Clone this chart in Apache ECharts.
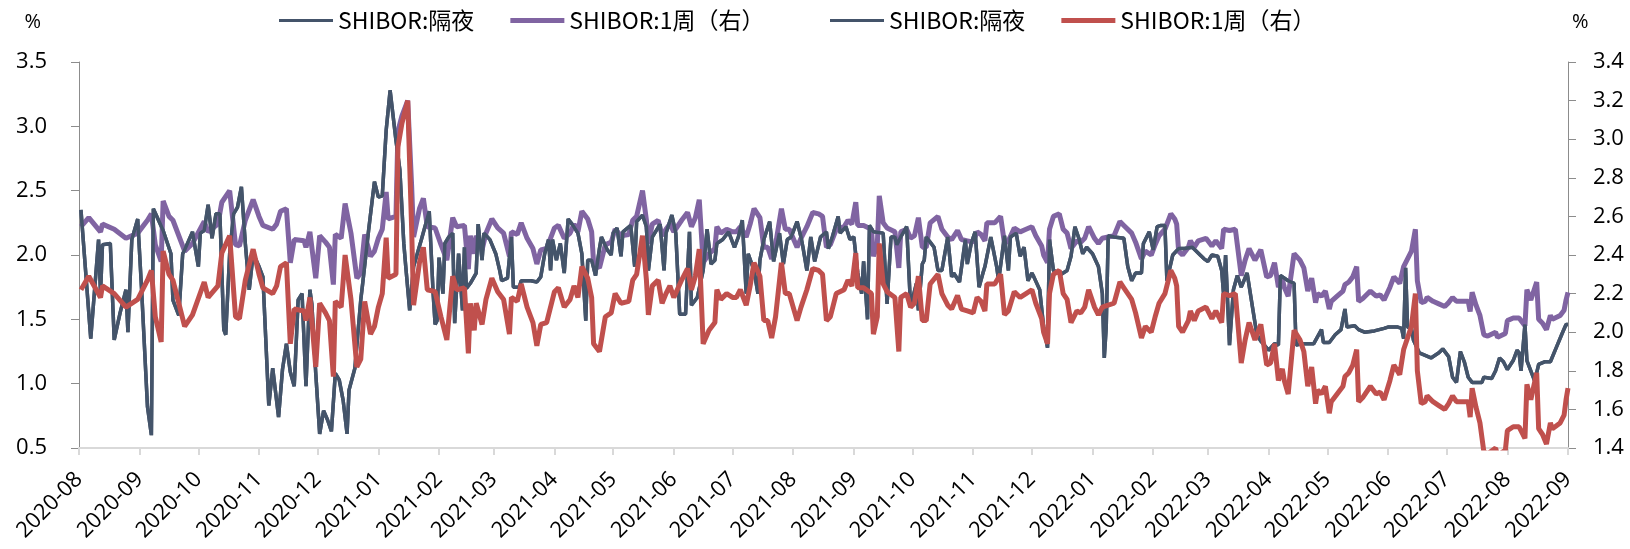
<!DOCTYPE html>
<html>
<head>
<meta charset="utf-8">
<title>SHIBOR</title>
<script src="https://cdn.jsdelivr.net/npm/echarts@6/dist/echarts.min.js"></script>
<style>
html,body{margin:0;padding:0;background:#fff;}
#chart{width:1630px;height:549px;}
</style>
</head>
<body>
<div id="chart"></div>
<script>
// month tick labels on the date axis
var monthLabels = ['2020-08','2020-09','2020-10','2020-11','2020-12','2021-01','2021-02','2021-03','2021-04',
  '2021-05','2021-06','2021-07','2021-08','2021-09','2021-10','2021-11','2021-12','2022-01','2022-02',
  '2022-03','2022-04','2022-05','2022-06','2022-07','2022-08','2022-09'];

// SHIBOR overnight: day offset from 2020-08-01, value (%)
var dayOn = [1,6,10,11,12,16,18,21,24,25,27,30,32,35,37,38,43,47,48,51,53,54,58,61,62,64,66,68,70,72,74,75,77,79,81,83,85,87,89,92,94,97,99,102,104,106,108,110,112,114,116,118,
  119,121,123,125,127,129,131,133,135,137,138,141,144,145,148,151,153,155,157,159,162,164,166,167,169,171,175,179,181,182,183,184,186,187,189,191,192,194,196,197,198,200,203,204,206,207,210,213,215,216,219,221,222,225,226,231,234,236,238,240,241,242,244,246,248,250,252,255,257,259,260,262,264,266,
  267,270,272,273,275,277,278,282,284,285,288,290,291,293,295,297,299,300,303,305,307,310,312,313,316,319,321,323,325,326,329,332,335,337,339,341,342,345,347,348,350,353,355,358,360,362,364,367,369,370,372,374,376,379,382,383,385,388,389,392,394,396,398,400,401,403,404,406,
  411,413,415,417,418,420,423,425,428,429,431,432,433,435,437,439,441,444,446,447,450,452,453,454,456,458,460,462,463,466,469,470,473,475,476,479,481,483,485,487,488,491,493,495,496,498,502,505,507,509,511,513,515,518,521,523,524,525,526,529,534,536,538,540,543,544,547,549,551,553,
  555,556,559,562,565,569,573,575,577,579,582,584,585,586,588,590,592,594,597,600,602,604,608,611,613,614,618,621,622,625,628,631,635,636,639,642,645,647,648,652,654,657,662,667,669,674,
  676,677,678,679,681,682,685,688,691,695,697,700,702,704,706,708,710,712,715,717,718,722,724,726,728,730,733,735,736,737,739,740,742,744,746,749,752,755,758,760,761];
var shiborOn = [2.35,1.35,2.12,1.70,2.08,2.09,1.34,1.55,1.73,1.40,2.12,2.28,1.73,0.82,0.60,2.36,2.19,2.01,1.65,1.53,2.01,2.04,2.18,1.91,2.17,2.19,2.39,2.13,2.32,2.32,1.42,1.38,2.01,2.32,2.37,2.53,2.09,1.73,2.01,1.91,1.83,0.83,1.12,0.74,1.11,1.31,1.09,0.98,1.65,1.70,0.98,1.73,
  1.62,1.08,0.61,0.79,0.72,0.63,1.08,1.03,0.87,0.61,0.95,1.12,1.65,1.78,2.19,2.57,2.45,2.46,2.97,3.28,2.89,2.66,2.09,1.91,1.57,1.91,2.12,2.34,1.70,1.46,1.49,1.98,1.70,2.09,2.14,2.17,1.47,2.01,1.57,2.06,1.74,1.78,1.86,2.24,1.96,2.17,2.12,2.01,1.88,1.80,1.82,2.14,1.75,1.75,1.80,1.80,1.79,1.83,2.01,2.12,1.88,2.12,1.96,2.09,1.86,2.28,2.24,2.17,2.01,1.49,1.96,1.96,1.84,2.05,
  2.14,2.04,2.00,2.17,2.21,1.99,2.18,2.23,1.91,2.26,2.31,2.22,1.88,2.14,2.19,2.24,1.88,2.17,2.31,2.17,1.54,1.54,2.18,1.61,1.67,1.88,2.20,1.93,1.96,2.09,2.12,2.18,2.06,2.14,2.27,1.70,2.01,1.88,1.70,1.96,2.12,2.26,1.95,2.17,1.93,2.12,2.14,2.26,2.14,2.06,1.88,2.14,1.95,2.14,2.18,2.05,2.14,2.30,2.17,2.22,2.12,2.14,1.86,1.70,1.95,1.50,2.23,2.18,
  2.17,1.62,2.14,2.14,2.08,2.14,2.22,1.60,1.78,1.57,1.93,1.96,2.14,2.10,2.06,1.88,1.88,2.14,1.83,1.86,1.79,2.01,2.12,1.93,2.09,2.18,1.75,1.86,1.91,2.14,1.91,1.80,2.15,1.88,2.14,2.17,1.99,2.06,1.80,1.86,1.83,1.73,1.44,1.28,2.12,1.88,1.85,1.88,1.99,2.22,2.13,2.01,2.06,2.01,1.91,1.70,1.20,1.44,2.15,2.14,2.13,1.91,1.80,1.86,1.86,2.09,2.18,2.04,2.22,2.23,
  2.23,1.80,2.00,2.05,2.05,2.06,2.00,1.97,1.95,2.00,1.99,1.88,1.69,2.00,1.30,1.73,1.84,1.75,1.86,1.57,1.38,1.33,1.26,1.31,1.30,1.84,1.80,1.78,1.30,1.31,1.31,1.31,1.42,1.32,1.32,1.38,1.42,1.58,1.44,1.45,1.42,1.40,1.41,1.43,1.44,1.44,
  1.43,1.35,1.90,1.44,1.43,1.34,1.24,1.22,1.20,1.24,1.27,1.21,1.05,1.01,1.25,1.17,1.05,1.01,1.01,1.01,1.05,1.04,1.10,1.20,1.17,1.11,1.18,1.26,1.24,1.10,1.46,1.18,1.10,1.02,1.15,1.17,1.17,1.28,1.39,1.46,1.46];

// SHIBOR 1 week: day offset from 2020-08-01, value (%)
var day1w = [1,5,11,12,18,24,30,35,37,39,42,43,46,48,54,58,64,66,71,73,77,80,82,85,89,92,94,99,101,103,106,108,110,115,116,118,121,123,
  126,128,130,131,134,136,139,142,144,146,149,151,153,155,157,158,162,163,165,168,170,171,174,176,178,182,185,188,191,193,197,199,200,202,203,206,208,211,214,217,220,221,224,226,229,232,234,236,239,243,245,248,251,253,255,257,260,262,263,266,
  269,272,274,277,281,283,285,288,290,291,293,296,298,300,302,304,308,311,313,315,317,319,322,325,326,328,331,334,336,338,341,343,345,348,350,352,354,356,359,361,363,367,369,372,375,378,380,382,384,387,391,393,395,397,398,401,405,406,408,409,
  411,413,417,419,420,423,425,427,429,431,433,435,439,441,444,446,449,451,454,457,459,461,463,464,468,471,473,475,478,481,484,487,489,492,493,495,496,498,501,503,505,507,510,512,514,516,519,521,523,526,529,532,534,538,540,543,545,548,550,552,
  555,558,560,561,562,564,567,568,570,572,576,579,581,584,585,588,591,594,596,598,601,602,604,607,609,611,613,615,616,618,619,621,624,626,628,630,632,633,635,637,639,640,643,646,647,649,651,653,654,656,660,663,665,667,670,672,675,
  677,681,683,684,686,688,689,692,695,698,700,702,704,706,710,711,712,714,716,718,720,724,725,729,730,733,736,739,740,742,745,746,748,750,752,753,757,759,760,761];
var shibor1w = [2.22,2.29,2.18,2.24,2.20,2.13,2.17,2.27,2.32,2.08,1.95,2.42,2.30,2.27,2.03,2.09,2.26,2.18,2.24,2.41,2.50,2.08,2.07,2.27,2.43,2.30,2.23,2.20,2.24,2.34,2.36,1.94,2.12,2.11,2.06,2.18,1.82,2.15,
  2.10,2.06,1.77,2.16,2.13,2.40,2.17,1.82,1.86,2.16,1.99,2.03,2.13,2.20,2.49,2.28,2.30,2.96,3.08,3.20,2.54,2.14,2.36,2.44,2.22,2.21,2.08,1.96,2.29,2.22,2.23,1.89,2.15,2.01,2.15,2.04,2.17,2.28,2.21,2.17,1.99,2.18,2.16,2.25,2.13,2.05,1.93,2.04,2.05,2.21,2.23,2.13,2.17,2.24,2.18,2.34,2.28,2.18,1.94,1.90,
  2.08,2.10,2.20,2.15,2.16,2.27,2.30,2.50,2.27,2.09,2.24,2.27,2.15,2.20,2.24,2.18,2.27,2.33,2.22,2.29,2.43,1.94,2.01,2.05,2.22,2.17,2.20,2.18,2.18,2.22,2.14,2.24,2.36,2.29,2.06,2.06,1.97,2.08,2.36,2.20,2.20,2.06,2.13,2.22,2.33,2.32,2.30,2.06,2.08,2.20,2.22,2.27,2.24,2.41,2.23,2.23,2.20,1.99,2.08,2.46,
  2.25,2.21,2.18,1.90,2.18,2.20,2.13,2.15,2.29,2.06,2.06,2.25,2.30,2.20,2.14,2.12,2.19,2.12,2.11,2.10,2.18,2.16,2.11,2.25,2.25,2.30,2.09,2.11,2.21,2.18,2.20,2.22,2.15,2.07,2.00,1.94,2.20,2.30,2.32,2.20,2.17,2.05,2.11,2.10,2.13,2.22,2.13,2.09,2.13,2.14,2.15,2.26,2.23,2.17,2.10,1.97,2.03,2.00,2.08,2.15,
  2.20,2.32,2.28,2.24,2.03,2.00,2.06,2.11,2.06,2.11,2.13,2.07,2.11,2.05,2.20,2.19,2.20,1.84,1.96,2.05,1.96,1.95,2.04,1.83,1.84,1.94,1.75,1.81,1.75,1.68,1.79,2.01,1.96,1.90,1.72,1.82,1.63,1.70,1.68,1.72,1.58,1.64,1.68,1.72,1.77,1.79,1.83,1.91,1.64,1.66,1.72,1.68,1.69,1.65,1.75,1.83,1.78,
  1.91,2.03,2.20,1.80,1.63,1.64,1.67,1.64,1.62,1.60,1.63,1.67,1.64,1.64,1.64,1.56,1.71,1.61,1.53,1.38,1.37,1.40,1.36,1.39,1.49,1.51,1.51,1.45,1.73,1.65,1.79,1.50,1.47,1.42,1.53,1.50,1.53,1.57,1.65,1.71];

function toTime(d) { return new Date(2020, 7, 1 + d).getTime(); }
function monthTime(s) { var p = s.split('-'); return new Date(+p[0], +p[1] - 1, 1).getTime(); }
function pairs(days, vals) {
  var out = [];
  for (var i = 0; i < days.length; i++) out.push([toTime(days[i]), vals[i]]);
  return out;
}
var monthTicks = monthLabels.map(monthTime);
var onData = pairs(dayOn, shiborOn);
var w1Data = pairs(day1w, shibor1w);

var numFont = 'Open Sans';
var axisGray = '#8c8c8c';
// legend keys: plain line bars, thin for overnight, thick for 1 week
var thinBar = 'path://M0,0L52,0L52,3L0,3Z';
var thickBar = 'path://M0,0L56,0L56,5L0,5Z';

function legendPart(left, names) {
  return {
    left: left,
    top: 4,
    itemWidth: 54,
    itemHeight: 14,
    itemGap: 36,
    itemStyle: { borderWidth: 0 },
    textStyle: { fontFamily: 'Noto Sans CJK SC', fontSize: 23, color: '#000' },
    formatter: function (n) { return n.replace('\u200b', ''); },
    data: [
      { name: names[0], icon: thinBar },
      { name: names[1], icon: thickBar }
    ]
  };
}

var myChart = echarts.init(document.getElementById('chart'));
myChart.setOption({
  animation: false,
  backgroundColor: '#fff',
  legend: [
    legendPart(274, ['SHIBOR:隔夜', 'SHIBOR:1周（右）']),
    legendPart(825, ['SHIBOR:隔夜\u200b', 'SHIBOR:1周（右）\u200b'])
  ],
  grid: { left: 79, right: 62, top: 62, bottom: 101, outerBoundsMode: 'none' },
  xAxis: {
    type: 'value',
    min: monthTicks[0],
    max: monthTicks[monthTicks.length - 1],
    axisLine: { lineStyle: { color: '#d9d9d9', width: 2 } },
    axisTick: { show: true, length: 7, lineStyle: { color: '#d9d9d9', width: 2 }, customValues: monthTicks },
    axisLabel: {
      rotate: 45,
      margin: 28,
      fontFamily: numFont,
      fontSize: 22,
      color: '#000',
      customValues: monthTicks,
      formatter: function (v) {
        var i = monthTicks.indexOf(v);
        return i >= 0 ? monthLabels[i] : '';
      }
    },
    splitLine: { show: false }
  },
  yAxis: [{
    type: 'value',
    min: 0.5,
    max: 3.5,
    interval: 0.5,
    name: '%',
    nameLocation: 'end',
    nameGap: 30,
    nameTextStyle: { fontFamily: numFont, fontSize: 20, color: '#000', align: 'right', padding: [0, 38, 0, 0] },
    axisLine: { show: true, lineStyle: { color: axisGray, width: 1 } },
    axisTick: { show: true, length: 8, lineStyle: { color: axisGray } },
    axisLabel: { margin: 32, align: 'right', fontFamily: numFont, fontSize: 22, color: '#000',
      formatter: function (v) { return v.toFixed(1); } },
    splitLine: { show: false }
  }, {
    type: 'value',
    min: 1.4,
    max: 3.4,
    interval: 0.2,
    name: '%',
    nameLocation: 'end',
    nameGap: 30,
    nameTextStyle: { fontFamily: numFont, fontSize: 20, color: '#000', align: 'left', padding: [0, 0, 0, 4] },
    axisLine: { show: true, lineStyle: { color: axisGray, width: 1 } },
    axisTick: { show: true, length: 8, lineStyle: { color: axisGray } },
    axisLabel: { margin: 25, align: 'left', fontFamily: numFont, fontSize: 22, color: '#000',
      formatter: function (v) { return v.toFixed(1); } },
    splitLine: { show: false }
  }],
  series: [{
    name: 'SHIBOR:隔夜',
    type: 'line',
    yAxisIndex: 0,
    symbol: 'none',
    color: '#44546A',
    lineStyle: { width: 3.5, color: '#44546A' },
    data: onData
  }, {
    name: 'SHIBOR:1周（右）',
    type: 'line',
    yAxisIndex: 0,
    symbol: 'none',
    color: '#8064A2',
    lineStyle: { width: 5, color: '#8064A2' },
    data: w1Data
  }, {
    name: 'SHIBOR:隔夜\u200b',
    type: 'line',
    yAxisIndex: 0,
    symbol: 'none',
    color: '#44546A',
    lineStyle: { width: 3.5, color: '#44546A' },
    data: onData
  }, {
    name: 'SHIBOR:1周（右）\u200b',
    type: 'line',
    yAxisIndex: 1,
    symbol: 'none',
    color: '#C0504D',
    lineStyle: { width: 5, color: '#C0504D' },
    data: w1Data
  }]
});

window.addEventListener('resize', function () { myChart.resize(); });
</script>
</body>
</html>
